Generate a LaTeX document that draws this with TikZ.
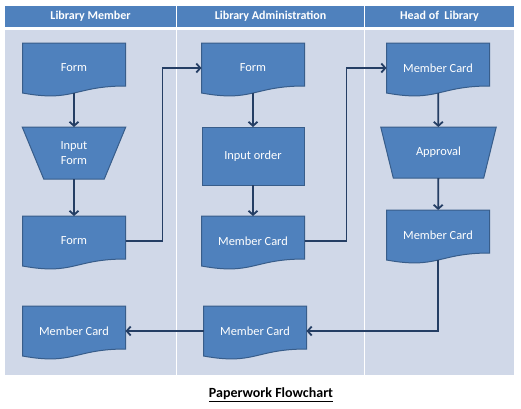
\documentclass[tikz,border=0pt]{standalone}
\usepackage{fontspec}
\setmainfont{Carlito}
\usetikzlibrary{arrows.meta,shapes.geometric}
\definecolor{lane_blue}{RGB}{208,216,232}
\definecolor{head_blue}{RGB}{79,129,189}
\definecolor{node_blue}{RGB}{79,129,189}
\definecolor{edge_blue}{RGB}{56,93,138}
\definecolor{line_blue}{RGB}{36,62,100}
\pgfdeclarelayer{lanes}
\pgfdeclarelayer{shapes}
\pgfsetlayers{lanes,shapes,main}

\begin{document}
\begin{tikzpicture}[x=1pt,y=-1pt,>={Straight Barb[length=4pt,width=9pt]}]
    \tikzstyle{head}=[fill=head_blue, text=white, minimum height=21pt, inner sep=0pt, outer sep=0pt, font=\fontsize{12}{14.4}\selectfont\bfseries]
    \tikzstyle{box}=[minimum width=103pt, inner sep=2pt, outer sep=0pt, text=white, align=center, font=\fontsize{12.4}{14.4}\selectfont]
    \tikzstyle{doc}=[box, minimum height=50pt, append after command={\pgfextra{\begin{pgfonlayer}{shapes}
        \filldraw[fill=node_blue, draw=edge_blue, line width=1pt] (\tikzlastnode.north west) -- (\tikzlastnode.north east)
          -- ([yshift=7pt]\tikzlastnode.south east)
          .. controls ([yshift=7pt]\tikzlastnode.south) and ([yshift=-9.4pt]\tikzlastnode.south) .. (\tikzlastnode.south west) -- cycle;
        \end{pgfonlayer}}}]
    \tikzstyle{trap}=[box, trapezium, shape border rotate=180, trapezium stretches=true, trapezium angle=67.5, minimum width=104pt, minimum height=52pt, fill=node_blue, draw=edge_blue, line width=1pt]
    \tikzstyle{proc}=[box, rectangle, minimum width=102pt, minimum height=58pt, fill=node_blue, draw=edge_blue, line width=1pt]
    \tikzstyle{flow}=[->, draw=line_blue, line width=1.8pt]

    \useasboundingbox (0,0) rectangle (521,408);
    \begin{pgfonlayer}{lanes}
      \fill[white] (0,0) rectangle (521,408);
      \fill[lane_blue] (5,30) rectangle (176,375);
      \fill[lane_blue] (177,30) rectangle (364,375);
      \fill[lane_blue] (365,30) rectangle (514,375);
    \end{pgfonlayer}

    % lane headers
    \node[head, minimum width=171pt] (hdMember) at (90.5,16.5)  {Library Member};
    \node[head, minimum width=187pt] (hdAdmin)  at (270.5,16.5) {Library Administration};
    \node[head, minimum width=149pt] (hdHead)   at (439.5,16.5) {Head of~ Library};

    \node[doc]  (fm1)    at (74,68)    {Form};
    \node[trap] (inform) at (74,153)   {Input\\Form};
    \node[doc]  (fm2)    at (74,241)   {Form};
    \node[doc]  (mc1)    at (74,331)   {Member Card};
    \node[doc]  (fm3)    at (253,68)   {Form};
    \node[proc] (order)  at (253,156)  {Input order};
    \node[doc]  (mc2)    at (253,241)  {Member Card};
    \node[doc]  (mc3)    at (255,331)  {Member Card};
    \node[doc]  (mc4)    at (438,68)   {Member Card};
    \node[trap, trapezium angle=65, minimum width=116pt, minimum height=51pt] (appr) at (438.5,152.5) {Approval};
    \node[doc]  (mc5)    at (438,235)  {Member Card};

    \node[font=\fontsize{14}{16.8}\selectfont\bfseries] (title) at (271,395) {\underline{Paperwork Flowchart}};

    \path[flow]
     (fm1) edge (inform)
     (inform) edge (fm2)
     (fm3) edge (order)
     (order) edge (mc2)
     (mc4) edge (appr)
     (appr) edge (mc5)
     (mc3) edge (mc1)
     ;
    \draw[flow] (fm2.east) -- ++(37,0) |- (fm3.west);
    \draw[flow] (mc2.east) -- ++(42,0) |- (mc4.west);
    \draw[flow] (mc5.south) |- (mc3.east);
\end{tikzpicture}
\end{document}
